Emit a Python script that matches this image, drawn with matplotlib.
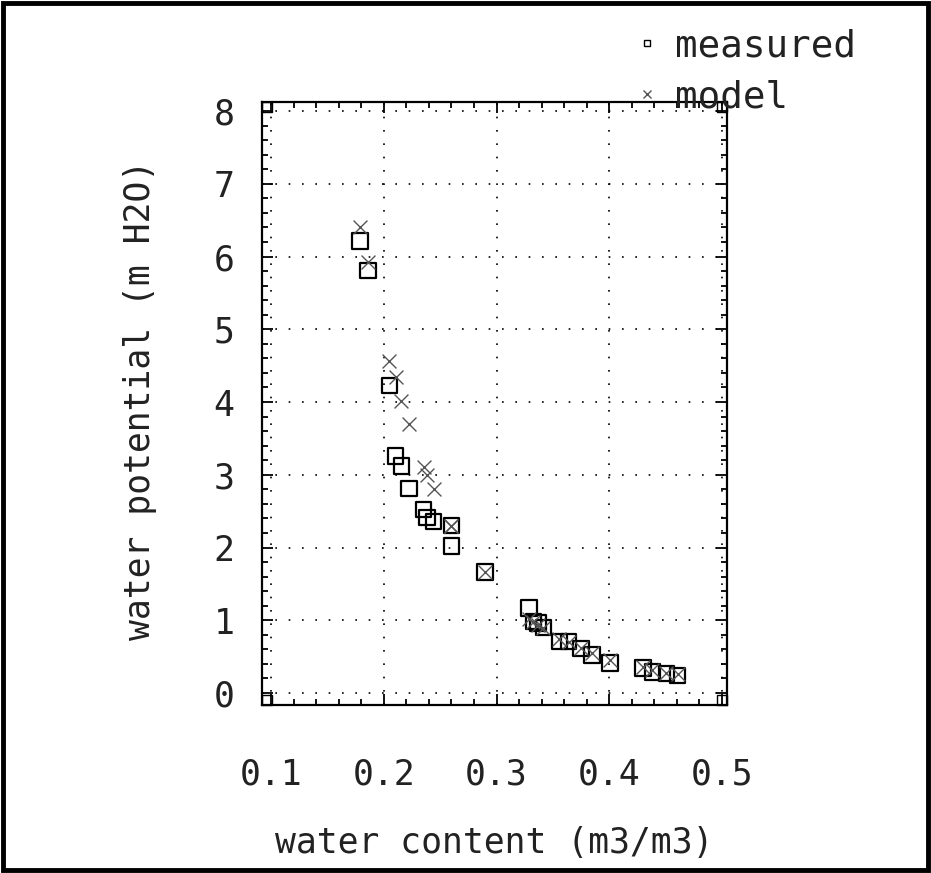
import matplotlib
matplotlib.use('Agg')
import matplotlib.pyplot as plt
from matplotlib.lines import Line2D
from matplotlib.patches import Rectangle
from matplotlib.ticker import MultipleLocator

plt.rcParams['font.family'] = ['DejaVu Sans Mono']

# ── data ─────────────────────────────────────────────────
theta = [0.179, 0.186, 0.205, 0.2106, 0.2157, 0.2224, 0.2354, 0.2383, 0.2442,
         0.260, 0.260, 0.290, 0.3286, 0.3327, 0.3366, 0.3416, 0.3558, 0.364,
         0.375, 0.3846, 0.4006, 0.430, 0.4383, 0.4507, 0.4605]
psi_measured = [6.21, 5.81, 4.23, 3.26, 3.12, 2.81, 2.52, 2.41, 2.36,
                2.30, 2.02, 1.66, 1.17, 0.98, 0.96, 0.90, 0.71, 0.71,
                0.61, 0.52, 0.41, 0.34, 0.29, 0.27, 0.24]
psi_model = [6.40, 5.93, 4.56, 4.34, 4.01, 3.70, 3.10, 3.00, 2.80,
             2.30, 2.30, 1.66, 1.02, 0.97, 0.94, 0.90, 0.74, 0.70,
             0.62, 0.55, 0.45, 0.36, 0.32, 0.28, 0.26]
x_ticks = [0.1, 0.2, 0.3, 0.4, 0.5]
y_ticks = [0, 1, 2, 3, 4, 5, 6, 7, 8]

FS = 25
TXT = '#222222'

fig = plt.figure(figsize=(9.31, 8.73), dpi=100)
ax = fig.add_axes([262/931, 1 - 705/873, 465/931, 603/873])

ax.scatter(theta, psi_measured, marker='s', s=125, facecolors='none',
           edgecolors='black', linewidths=1.6, zorder=3)
ax.scatter(theta, psi_model, marker='x', s=100, color='#555555',
           linewidths=1.0, zorder=4)

ax.set_xlim(0.092, 0.5044)
ax.set_ylim(-0.165, 8.124)
ax.set_xticks(x_ticks)
ax.set_xticklabels([f'{v:.1f}' for v in x_ticks])
ax.set_yticks(y_ticks)
ax.xaxis.set_minor_locator(MultipleLocator(0.02))
ax.yaxis.set_minor_locator(MultipleLocator(0.2))
ax.tick_params(which='both', direction='in', top=True, right=True, width=1.3)
ax.tick_params(which='major', length=8)
ax.tick_params(which='minor', length=4.5)
ax.tick_params(axis='x', labelsize=FS, pad=38, labelcolor=TXT)
ax.tick_params(axis='y', labelsize=FS, pad=20, labelcolor=TXT)
for sp in ax.spines.values():
    sp.set_linewidth(1.6)

ax.grid(True, which='major', color='black', linestyle=(0, (1, 7)), linewidth=1.2)

ax.set_xlabel('water content (m3/m3)', fontsize=FS, color=TXT)
ax.xaxis.set_label_coords(0.5, -0.229)
ax.xaxis.label.set_va('center')
ax.set_ylabel('water potential (m H2O)', fontsize=FS, color=TXT)
ax.yaxis.set_label_coords(-0.262, 0.506)
ax.yaxis.label.set_va('center')

# little squares the old plotter left in the frame corners
cw, ch = 10/465, 10/603
for cx, cy in [(0, 0), (1 - cw, 0), (0, 1 - ch), (1 - cw, 1 - ch)]:
    ax.add_patch(Rectangle((cx, cy), cw, ch, transform=ax.transAxes,
                           fill=False, edgecolor='black', linewidth=1.0, clip_on=False))

handles = [Line2D([], [], marker='s', linestyle='none', markersize=5,
                  markerfacecolor='none', markeredgecolor='black', markeredgewidth=1),
           Line2D([], [], marker='x', linestyle='none', markersize=6,
                  color='#555555', markeredgewidth=1)]
leg = fig.legend(handles, ['measured', 'model'], loc='center left',
                 bbox_to_anchor=(615/931, 1 - 72/873), frameon=False, fontsize=27,
                 handlelength=0.7, handletextpad=0.4, labelspacing=0.4, borderpad=0)
for t in leg.get_texts():
    t.set_color(TXT)

# thick frame round the whole scan
fig.add_artist(Rectangle((0.003, 0.004), 0.994, 0.992, transform=fig.transFigure,
                         fill=False, edgecolor='black', linewidth=3.5))

fig.savefig('out.png', dpi=100, facecolor='white')
